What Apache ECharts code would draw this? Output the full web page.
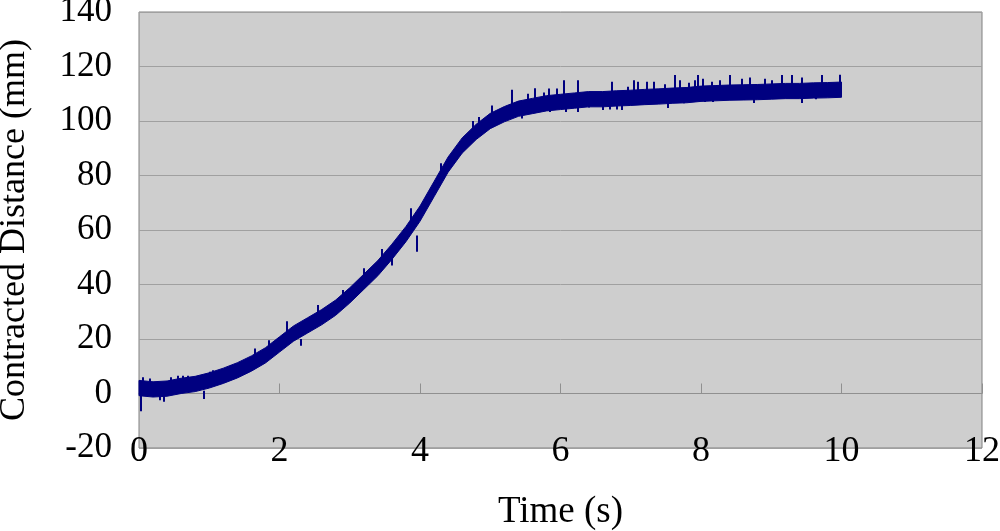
<!DOCTYPE html>
<html>
<head>
<meta charset="utf-8">
<script src="https://cdn.jsdelivr.net/npm/echarts@6/dist/echarts.min.js"></script>
<style>
  html, body { margin: 0; background: #fff; }
  #chart { width: 1000px; height: 531px; }
</style>
</head>
<body>
<div id="chart"></div>
<script>
// time samples (s) and the lower / upper edge of the noisy trace (mm)
const timeS = [0, 0.2, 0.4, 0.6, 0.8, 1.0, 1.2, 1.4, 1.6, 1.8, 2.0, 2.2, 2.4, 2.6, 2.8, 3.0, 3.2, 3.4, 3.6, 3.8,
  4.0, 4.2, 4.4, 4.6, 4.8, 5.0, 5.2, 5.4, 5.6, 5.8, 6.0, 6.2, 6.4, 6.6, 6.8, 7.0, 7.2, 7.4, 7.6, 7.8,
  8.0, 8.2, 8.4, 8.6, 8.8, 9.0, 9.2, 9.4, 9.6, 9.8, 10.0]
const distLow = [-0.8, -1.3, -1.0, 0.0, 0.7, 2.0, 3.7, 5.7, 8.2, 11.2, 15.2, 19.2, 22.2, 25.2, 28.7, 33.2, 38.2, 43.2, 49.2, 55.7,
  63.2, 72.2, 81.2, 88.2, 93.2, 97.2, 99.7, 101.7, 102.7, 103.7, 104.2, 104.7, 105.2, 105.2, 105.5, 105.7, 106.0, 106.2, 106.5, 106.7,
  107.2, 107.4, 107.6, 107.7, 107.8, 108.0, 108.2, 108.2, 108.4, 108.5, 108.7]
const distHigh = [4.8, 4.3, 4.6, 5.6, 6.3, 7.6, 9.3, 11.3, 13.8, 16.8, 20.8, 24.8, 27.8, 30.8, 34.3, 38.8, 43.8, 48.8, 54.8, 61.3,
  68.8, 77.8, 86.8, 93.8, 98.8, 102.8, 105.3, 107.3, 108.3, 109.3, 109.8, 110.3, 110.8, 110.8, 111.1, 111.3, 111.6, 111.8, 112.1, 112.3,
  112.8, 113.0, 113.2, 113.3, 113.4, 113.6, 113.8, 113.8, 114.0, 114.1, 114.3]

// single noise spikes sticking out of the band: time, start, tip
const spikeT = [0.02, 0.05, 0.15, 0.3, 0.35, 0.45, 0.55, 0.62, 0.7, 0.92, 1.0, 1.05, 1.3, 1.65, 1.85, 2.1, 2.3, 2.55, 2.9,
  3.2, 3.45, 3.6, 3.87, 3.96, 4.3, 4.75, 4.83, 5.02, 5.3, 5.45, 5.54, 5.64, 5.69, 5.76, 5.83, 5.85, 5.95,
  6.04, 6.08, 6.24, 6.25, 6.4, 6.6, 6.7, 6.73, 6.8, 6.87, 6.96, 7.04, 7.1, 7.23, 7.33, 7.49, 7.53, 7.63, 7.7,
  7.75, 7.82, 7.91, 7.96, 8.03, 8.05, 8.15, 8.17, 8.27, 8.41, 8.58, 8.7, 8.75, 8.91, 9.0, 9.15, 9.29, 9.43,
  9.44, 9.63, 9.72, 9.98]
const spikeFrom = [0, 3, 2, 1, 0, 3, 4, 4, 4, 1, 5, 5, 6, 12, 15, 22, 20, 27, 33,
  41, 48, 50, 60, 58, 80, 95, 97, 101, 105, 104, 107, 107, 106, 107, 107, 106, 108,
  109, 107, 109, 107, 108, 107, 107, 110, 107, 107, 110, 110, 110, 110, 110, 111, 107, 111, 111,
  108, 111, 111, 111, 111, 109, 111, 109, 111, 112, 112, 112, 109, 112, 112, 112, 112, 112,
  109, 109, 112, 112]
const spikeTo = [-6.5, 6, 5.5, -2.5, -3, 6, 6.5, 6.5, 6.5, -2, 8, 8.5, 10.5, 16.5, 19.5, 26.5, 17.5, 32.5, 38,
  46, 53, 47, 68, 52, 84.5, 100, 101.5, 105.7, 111.5, 100.9, 110, 112, 103.3, 110.5, 111.9, 103.3, 111.9,
  115, 103.3, 115, 103.3, 105, 104, 104.2, 114.4, 104.2, 104, 112.6, 115, 114.4, 114.4, 114.4, 113.5, 104.8, 116.9, 115,
  106.5, 114, 115, 116.9, 115.5, 107, 114.4, 107, 115, 116.9, 115.5, 116, 106.6, 115.5, 115, 116.9, 116.9, 116,
  106.6, 108, 116.9, 117]

const font = 'Liberation Serif'
const navy = '#000080'

const chart = echarts.init(document.getElementById('chart'))

// band between the low and high edges, drawn as one polygon
function renderBand(params, api) {
  if (params.dataIndex !== 0) return
  const upper = timeS.map((t, i) => api.coord([t, distHigh[i]]))
  const lower = timeS.map((t, i) => api.coord([t, distLow[i]])).reverse()
  return {
    type: 'polygon',
    shape: { points: upper.concat(lower) },
    style: { fill: navy, stroke: navy, lineWidth: 1 }
  }
}

const option = {
  animation: false,
  grid: {
    left: 139, right: 18, top: 12, bottom: 83,
    outerBoundsMode: 'none',
    containLabel: false,
    show: true,
    backgroundColor: '#CECECE',
    borderColor: '#808080',
    borderWidth: 1
  },
  xAxis: [
    {
      type: 'value', min: 0, max: 12, interval: 2,
      name: 'Time (s)', nameLocation: 'middle', nameGap: 46,
      nameTextStyle: { fontFamily: font, fontSize: 37, color: '#000' },
      axisLine: { onZero: false, show: false },
      axisTick: { show: false },
      splitLine: { show: false },
      axisLabel: { fontFamily: font, fontSize: 36, color: '#000', margin: -14 }
    },
    {
      type: 'value', min: 0, max: 12, interval: 2, position: 'bottom',
      axisLine: { onZero: true, lineStyle: { color: '#909090', width: 1 } },
      axisTick: { inside: true, length: 10, lineStyle: { color: '#909090' } },
      axisLabel: { show: false },
      splitLine: { show: false }
    }
  ],
  yAxis: {
    type: 'value', min: -20, max: 140, interval: 20,
    name: 'Contracted Distance (mm)', nameLocation: 'middle', nameGap: 106,
    nameTextStyle: { fontFamily: font, fontSize: 36, color: '#000' },
    axisLine: { show: false },
    axisTick: { show: false },
    splitLine: { lineStyle: { color: '#A0A0A0', width: 1 } },
    axisLabel: { fontFamily: font, fontSize: 35, color: '#000', margin: 27 }
  },
  series: [
    {
      type: 'custom', silent: true,
      renderItem: renderBand,
      data: timeS.map((t, i) => [t, distLow[i], distHigh[i]]),
      encode: { x: 0, y: [1, 2] }
    },
    {
      type: 'lines', coordinateSystem: 'cartesian2d', silent: true,
      lineStyle: { color: navy, width: 2, opacity: 1 },
      data: spikeT.map((t, i) => ({ coords: [[t, spikeFrom[i]], [t, spikeTo[i]]] }))
    }
  ]
}

chart.setOption(option)
</script>
</body>
</html>
